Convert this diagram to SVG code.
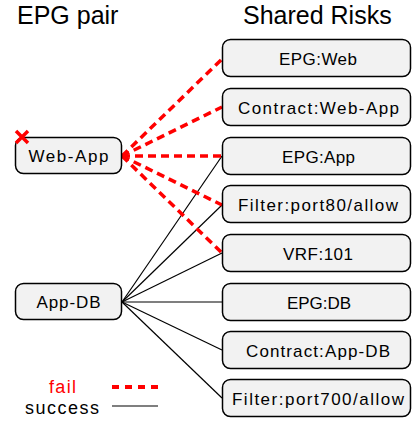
<svg xmlns="http://www.w3.org/2000/svg" width="412" height="424" viewBox="0 0 412 424">
<style>
.box{fill:#f2f2f2;stroke:#000;stroke-width:1.5}
.lbl{font-family:"Liberation Sans",Arial,sans-serif;font-size:17px;fill:#000;text-anchor:middle}
.title{font-family:"Liberation Sans",Arial,sans-serif;font-size:25px;fill:#000}
.leg{font-family:"Liberation Sans",Arial,sans-serif;font-size:18px}
.fail{stroke:#ff0000;stroke-width:3.5;stroke-dasharray:8 5;fill:none}
.ok{stroke:#000;stroke-width:1.2;fill:none}
</style>
<rect width="412" height="424" fill="#fff"/>
<text class="title" x="17" y="24">EPG pair</text>
<text class="title" x="243" y="24">Shared Risks</text>
<g id="connectors">
<line class="ok" x1="122" y1="302" x2="222" y2="156"/>
<line class="ok" x1="122" y1="302" x2="222" y2="205"/>
<line class="ok" x1="122" y1="302" x2="222" y2="253"/>
<line class="ok" x1="122" y1="302" x2="222" y2="302"/>
<line class="ok" x1="122" y1="302" x2="222" y2="350"/>
<line class="ok" x1="122" y1="302" x2="222" y2="398"/>
<line class="fail" x1="122" y1="156" x2="222" y2="59"/>
<line class="fail" x1="122" y1="156" x2="222" y2="107"/>
<line class="fail" x1="122" y1="156" x2="222" y2="156"/>
<line class="fail" x1="122" y1="156" x2="222" y2="205"/>
<line class="fail" x1="122" y1="156" x2="222" y2="253"/>
</g>
<g id="web-app">
<rect class="box" x="15.5" y="137.5" width="106" height="36" rx="8"/>
<text class="lbl" x="68.5" y="162" textLength="80" lengthAdjust="spacing">Web-App</text>
</g>
<g id="fail-mark">
<path d="M16 131 L28 143 M28 131 L16 143" stroke="#ff0000" stroke-width="3.5" fill="none"/>
</g>
<g id="app-db">
<rect class="box" x="15.5" y="283.5" width="106" height="36" rx="8"/>
<text class="lbl" x="68.5" y="308" textLength="64" lengthAdjust="spacing">App-DB</text>
</g>
<g id="epg-web">
<rect class="box" x="222.5" y="39.5" width="188" height="37" rx="8"/>
<text class="lbl" x="318" y="65" textLength="78" lengthAdjust="spacing">EPG:Web</text>
</g>
<g id="contract-web-app">
<rect class="box" x="222.5" y="88.5" width="188" height="37" rx="8"/>
<text class="lbl" x="318.5" y="114" textLength="161" lengthAdjust="spacing">Contract:Web-App</text>
</g>
<g id="epg-app">
<rect class="box" x="222.5" y="137.5" width="188" height="37" rx="8"/>
<text class="lbl" x="318.5" y="163" textLength="73" lengthAdjust="spacing">EPG:App</text>
</g>
<g id="filter-port80">
<rect class="box" x="222.5" y="185.5" width="188" height="37" rx="8"/>
<text class="lbl" x="318" y="211" textLength="160" lengthAdjust="spacing">Filter:port80/allow</text>
</g>
<g id="vrf-101">
<rect class="box" x="222.5" y="234.5" width="188" height="37" rx="8"/>
<text class="lbl" x="318" y="260" textLength="70" lengthAdjust="spacing">VRF:101</text>
</g>
<g id="epg-db">
<rect class="box" x="222.5" y="283.5" width="188" height="37" rx="8"/>
<text class="lbl" x="319" y="309" textLength="64" lengthAdjust="spacing">EPG:DB</text>
</g>
<g id="contract-app-db">
<rect class="box" x="222.5" y="331.5" width="188" height="37" rx="8"/>
<text class="lbl" x="318" y="357" textLength="144" lengthAdjust="spacing">Contract:App-DB</text>
</g>
<g id="filter-port700">
<rect class="box" x="222.5" y="379.5" width="188" height="37" rx="8"/>
<text class="lbl" x="318" y="405" textLength="172" lengthAdjust="spacing">Filter:port700/allow</text>
</g>
<g id="legend">
<text class="leg" x="49" y="393" fill="#ff0000" textLength="27" lengthAdjust="spacing">fail</text>
<text class="leg" x="25" y="414" fill="#000" textLength="74" lengthAdjust="spacing">success</text>
<line x1="112" y1="387" x2="158" y2="387" stroke="#ff0000" stroke-width="4" stroke-dasharray="7 6"/>
<line x1="112" y1="406" x2="158" y2="406" stroke="#000" stroke-width="1.2"/>
</g>
</svg>
